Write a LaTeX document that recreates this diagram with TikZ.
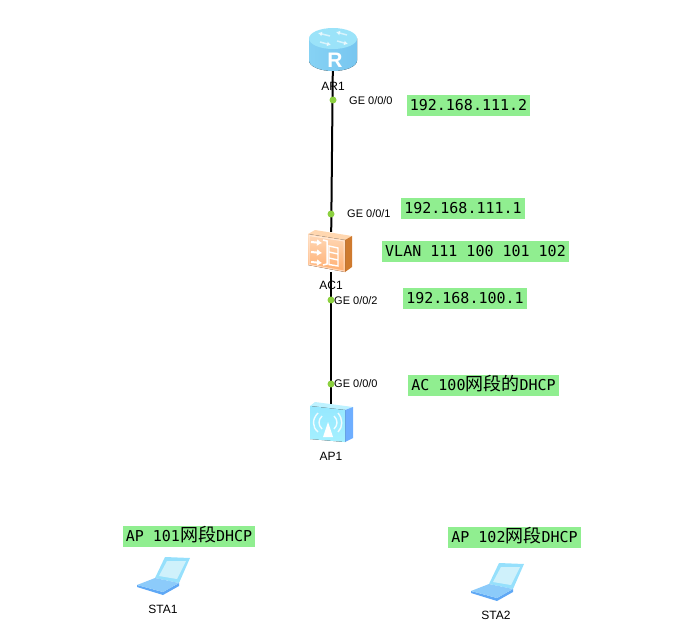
\documentclass[tikz,border=0pt]{standalone}
\usepackage{fontspec}
\usetikzlibrary{arrows.meta}
\setmainfont{Liberation Sans}
\setmonofont{DejaVu Sans Mono}
\newfontfamily\cjk{Noto Sans CJK SC}
\definecolor{ipgreen}{HTML}{90EE90}
\definecolor{portgreen}{HTML}{8CD040}
\definecolor{routertop}{HTML}{9BE3F9}
\definecolor{routerleft}{HTML}{86D2F4}
\definecolor{routermid}{HTML}{A6E8FA}
\definecolor{routerright}{HTML}{78C6F0}
\definecolor{actop}{HTML}{FFD7B0}
\definecolor{acside}{HTML}{CF7A2E}
\definecolor{acfronta}{HTML}{FFD9B8}
\definecolor{acfrontb}{HTML}{FFAE70}
\definecolor{aptop}{HTML}{BEF2FF}
\definecolor{apside}{HTML}{6EAEFF}
\definecolor{apfronta}{HTML}{96E8FF}
\definecolor{apfrontb}{HTML}{A5F0FF}
\definecolor{lapscreen}{HTML}{96E0FC}
\definecolor{lapglass}{HTML}{CFF1FB}
\definecolor{lapbase}{HTML}{8CCBFA}
\definecolor{laprim}{HTML}{5FA8F5}
\newcommand{\zh}[1]{{\cjk\fontsize{18}{18}\selectfont #1}}

\begin{document}
\begin{tikzpicture}[x=1pt,y=-1pt,
    link/.style={draw=black,line width=2pt},
    port/.style={circle,fill=portgreen,inner sep=0pt,minimum size=7pt},
    portname/.style={anchor=west,inner sep=0pt,font=\fontsize{11}{12}\selectfont},
    devname/.style={inner sep=0pt,font=\fontsize{12}{14}\selectfont},
    ip/.style={fill=ipgreen,inner sep=0pt,minimum height=21pt,text height=12pt,text depth=2pt,font=\ttfamily\fontsize{15}{17}\selectfont},
    dev/.style={inner sep=0pt,minimum width=40pt,minimum height=40pt},
    glyph/.style={white,line width=2pt,-{Latex[length=5pt,width=7pt]}},
    wave/.style={white,opacity=.85,line width=1.4pt},
    turn/.style={white,opacity=.6,line width=1.5pt,-{Latex[length=4pt,width=5pt]}},
    router/.pic={
        \fill[left color=routerleft,middle color=routermid,right color=routerright] (-24,-11.5) -- (-24,10.5) arc[start angle=180,end angle=0,x radius=24,y radius=10.5] -- (24,-11.5) -- cycle;
        \fill[routertop] (0,-11.5) ellipse[x radius=24,y radius=10.5];
        \draw[turn] (-3,-14) -- (-15,-17);
        \draw[turn] (-13,-8) -- (-2,-5);
        \draw[turn] (4,-9) -- (15,-6);
        \draw[turn] (14,-15) -- (3,-18);
        \node[white,inner sep=0pt,font=\bfseries\fontsize{21}{21}\selectfont] at (2,10.5) {R};
    },
    controller/.pic={
        \fill[actop] (-23,-18) -- (-16,-22) -- (21,-16) -- (14,-12) -- cycle;
        \fill[acside] (14,-12) -- (21,-16) -- (21,15) -- (14,20) -- cycle;
        \fill[top color=acfronta,bottom color=acfrontb] (-23,-18) -- (14,-12) -- (14,20) -- (-23,13) -- cycle;
        \draw[white,opacity=.5,line width=1pt] (-22,-16.5) -- (13,-11) -- (13,19) -- (-22,12.5) -- cycle;
        \draw[glyph] (-20,-10) -- (-9,-9);
        \draw[glyph] (-20,0) -- (-9,1);
        \draw[glyph] (-20,10) -- (-9,11);
        \draw[white,line width=1.5pt] (-8,-12) -- (-4,-11) -- (-4,12) -- (-8,13);
        \draw[white,line width=1.4pt] (-2,-6) -- (7,-4) -- (7,14) -- (-2,12.5) -- cycle (-2,0) -- (7,2) (-2,6) -- (7,8);
    },
    accesspoint/.pic={
        \fill[aptop] (-21,-19) -- (-16,-23) -- (22,-18) -- (14,-15) -- cycle;
        \fill[apside] (14,-15) -- (22,-18) -- (22,13) -- (14,17) -- cycle;
        \fill[top color=apfronta,bottom color=apfrontb] (-21,-19) -- (14,-15) -- (14,17) -- (-21,14) -- cycle;
        \fill[white] (-8,12) -- (2,12) -- (-3,-3) -- cycle;
        \draw[wave] (-9,-9) .. controls (-13,-5) and (-13,0) .. (-9,4);
        \draw[wave] (-13,-12) .. controls (-19,-6) and (-19,2) .. (-13,7);
        \draw[wave] (3,-9) .. controls (7,-5) and (7,0) .. (3,4);
        \draw[wave] (7,-12) .. controls (12,-6) and (12,2) .. (7,7);
    },
    laptop/.pic={
        \fill[lapscreen] (2,-19) -- (27,-18) -- (16,7) -- (-8,2) -- cycle;
        \fill[lapglass] (4,-15) -- (23,-15) -- (14,3) -- (-4,0) -- cycle;
        \fill[laprim] (-26,9) -- (0,16) -- (16,7) -- (16,10) -- (0,19) -- (-26,11) -- cycle;
        \fill[lapbase] (-26,9) -- (-8,2) -- (16,7) -- (0,16) -- cycle;
    },
    ]
    \useasboundingbox (0,0) rectangle (700,636);

    \node[dev] (AR1) at (333,50) {};
    \node[dev] (AC1) at (331,252) {};
    \node[dev] (AP1) at (331,425) {};
    \draw[link] (AR1) -- (AC1);
    \draw[link] (AC1) -- (AP1);

    \path (AR1) pic {router};
    \path (AC1) pic {controller};
    \path (AP1) pic {accesspoint};
    \path (163,576) coordinate (sta1) pic {laptop};
    \path (497,582) coordinate (sta2) pic {laptop};

    \node[port] (ar1port) at (333,100) {};
    \node[port] (ac1up) at (331,214) {};
    \node[port] (ac1down) at (331,300) {};
    \node[port] (ap1port) at (331,384) {};

    \node[portname] (ar1portname) at (349,101) {GE 0/0/0};
    \node[portname] (ac1upname) at (347,214) {GE 0/0/1};
    \node[portname] (ac1downname) at (334,301) {GE 0/0/2};
    \node[portname] (ap1portname) at (334,384) {GE 0/0/0};

    \node[devname] (AR1name) at (333,86) {AR1};
    \node[devname] (AC1name) at (331,285) {AC1};
    \node[devname] (AP1name) at (331,456) {AP1};
    \node[devname] (STA1name) at (163,609) {STA1};
    \node[devname] (STA2name) at (496,615) {STA2};

    \node[ip,minimum width=123pt] (ip1) at (468.5,105.5) {192.168.111.2};
    \node[ip,minimum width=124pt] (ip2) at (463,208.5) {192.168.111.1};
    \node[ip,minimum width=187pt] (vlan) at (475.5,251.5) {VLAN 111 100 101 102};
    \node[ip,minimum width=124pt] (ip3) at (465,298.5) {192.168.100.1};
    \node[ip,minimum width=151pt] (dhcpac) at (483.5,385.5) {AC 100\zh{网段的}DHCP};
    \node[ip,minimum width=132pt] (dhcp101) at (189,536.5) {AP 101\zh{网段}DHCP};
    \node[ip,minimum width=133pt] (dhcp102) at (514.5,537.5) {AP 102\zh{网段}DHCP};
\end{tikzpicture}
\end{document}
